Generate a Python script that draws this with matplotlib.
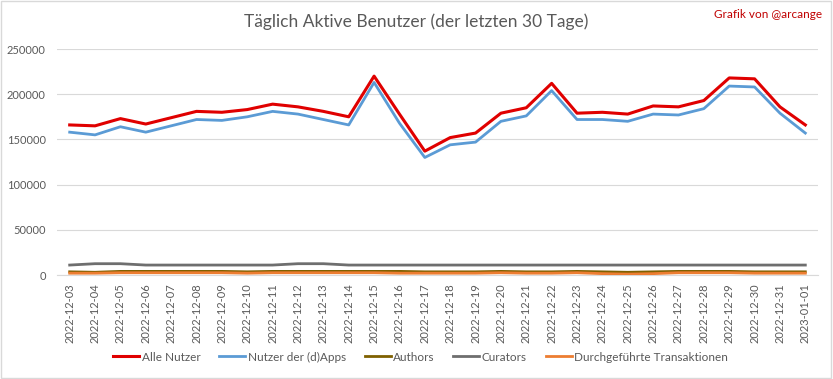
import matplotlib.pyplot as plt
from matplotlib.patches import Rectangle

plt.rcParams['font.family'] = ['Lato', 'DejaVu Sans']

dates = ['2022-12-03', '2022-12-04', '2022-12-05', '2022-12-06', '2022-12-07',
         '2022-12-08', '2022-12-09', '2022-12-10', '2022-12-11', '2022-12-12',
         '2022-12-13', '2022-12-14', '2022-12-15', '2022-12-16', '2022-12-17',
         '2022-12-18', '2022-12-19', '2022-12-20', '2022-12-21', '2022-12-22',
         '2022-12-23', '2022-12-24', '2022-12-25', '2022-12-26', '2022-12-27',
         '2022-12-28', '2022-12-29', '2022-12-30', '2022-12-31', '2023-01-01']

alle_nutzer = [166000, 165000, 173000, 167000, 174000, 181000, 180000, 183000, 189000, 186000,
               181000, 175000, 220000, 178000, 137000, 152000, 157000, 179000, 185000, 212000,
               179000, 180000, 178000, 187000, 186000, 193000, 218000, 217000, 186000, 166000]
dapps = [158000, 155000, 164000, 158000, 165000, 172000, 171000, 175000, 181000, 178000,
         172000, 166000, 213000, 168000, 130000, 144000, 147000, 170000, 176000, 204000,
         172000, 172000, 170000, 178000, 177000, 184000, 209000, 208000, 179000, 157000]
authors = [3500, 3000, 4000, 4000, 4000, 4000, 4000, 3500, 4000, 4000,
           4000, 4000, 4000, 4000, 3500, 3500, 3500, 4000, 3500, 3500,
           4000, 3500, 3000, 3500, 4000, 4000, 4000, 3500, 3500, 3500]
curators = [11000, 12500, 12500, 11000, 11000, 11000, 11000, 11000, 11000, 12500,
            12500, 11000, 11000, 11000, 11000, 11000, 11000, 11000, 11000, 11000,
            11000, 11000, 11000, 11000, 11000, 11000, 11000, 11000, 11000, 11000]
transaktionen = [2000, 2000, 2500, 2500, 2500, 2500, 2500, 2000, 2500, 2500,
                 2500, 2500, 2500, 2000, 2000, 2000, 2000, 2500, 2000, 2000,
                 2500, 1500, 1000, 1500, 2500, 2500, 2500, 2000, 2000, 2000]

fig = plt.figure(figsize=(8.33, 3.79), dpi=100)
ax = fig.add_axes([57 / 833, 104 / 379, 761 / 833, 226 / 379])

x = range(len(dates))
ax.plot(x, alle_nutzer, color='#e00000', lw=2.2, label='Alle Nutzer', zorder=5)
ax.plot(x, dapps, color='#5b9bd5', lw=2.0, label='Nutzer der (d)Apps', zorder=4)
ax.plot(x, authors, color='#7f6000', lw=2.0, label='Authors', zorder=3)
ax.plot(x, curators, color='#6e6e6e', lw=2.0, label='Curators', zorder=3)
ax.plot(x, transaktionen, color='#ed7d31', lw=2.0, label='Durchgeführte Transaktionen', zorder=3)

ax.set_xlim(-0.5, len(dates) - 0.5)
ax.set_ylim(0, 250000)
ax.set_yticks(range(0, 250001, 50000))
ax.set_xticks(list(x))
ax.set_xticklabels(dates, rotation=90)
ax.tick_params(length=0, labelsize=8, labelcolor='#595959')
ax.tick_params(axis='x', pad=6)
ax.tick_params(axis='y', pad=8)
ax.grid(axis='y', color='#d9d9d9', lw=0.8)
ax.set_axisbelow(True)
for s in ['top', 'right', 'left']:
    ax.spines[s].set_visible(False)
ax.spines['bottom'].set_color('#d9d9d9')

fig.text(0.5, 0.942, 'Täglich Aktive Benutzer (der letzten 30 Tage)', ha='center', va='center',
         fontsize=12.5, color='#595959')
fig.text(0.987, 0.962, 'Grafik von @arcange', ha='right', va='center', fontsize=8.5, color='#c00000')

fig.legend(loc='center', bbox_to_anchor=(0.505, 0.058), ncol=5, frameon=False, fontsize=8.5,
           handlelength=2.2, handletextpad=0.2, columnspacing=1.6, labelcolor='#595959')

fig.patches.append(Rectangle((0.001, 0.002), 0.997, 0.995, transform=fig.transFigure,
                             fill=False, edgecolor='#d9d9d9', lw=1))

fig.savefig('out.png', dpi=100, facecolor='white')
